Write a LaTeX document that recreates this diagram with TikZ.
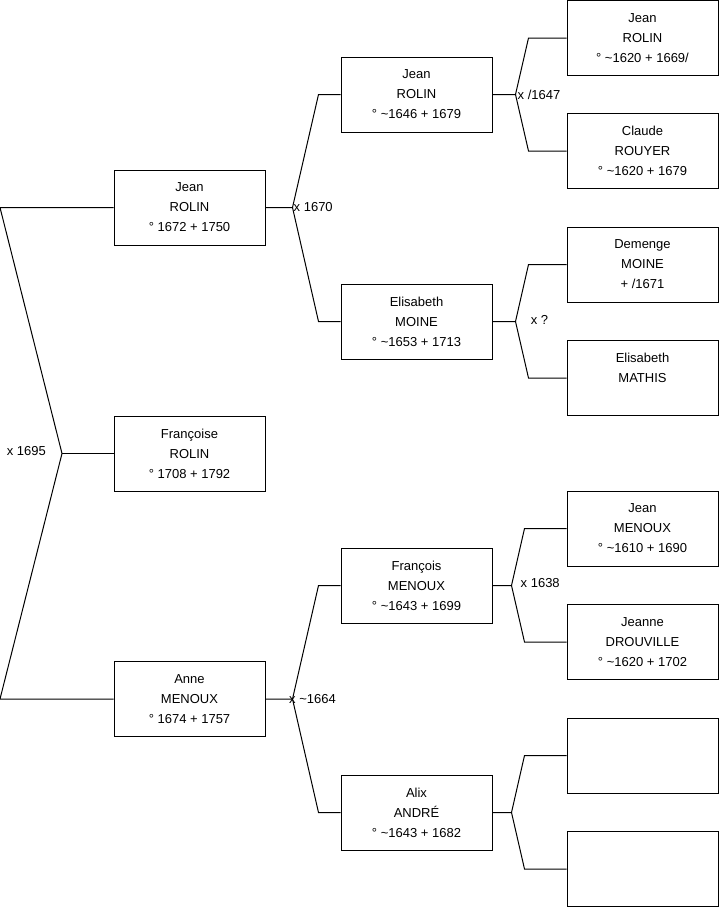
\documentclass[tikz,border=0pt]{standalone}
\usepackage{fontspec}
\setmainfont{Liberation Sans}
\usepackage{tikz}
\usetikzlibrary{positioning,calc}

\tikzset{
  person/.style={draw, line width=1pt, minimum width=151pt, minimum height=75pt,
    inner sep=0pt, align=center, font=\fontsize{13}{20}\selectfont},
  link/.style={line width=1pt},
  wed/.style={inner sep=0pt, font=\fontsize{13}{15}\selectfont}
}

\begin{document}
\begin{tikzpicture}[x=1pt, y=-1pt]
  \useasboundingbox (0,0) rectangle (719,908);

  % Generation 1
  \node[person] (jean1) at (189.5,207.5) {Jean\\ROLIN\\° 1672 + 1750};
  \node[person] (francoise1) at (189.5,453.5) {Françoise\\ROLIN\\° 1708 + 1792};
  \node[person] (anne1) at (189.5,699) {Anne\\MENOUX\\° 1674 + 1757};

  % Generation 2
  \node[person] (jean2) at (416.5,94.5) {Jean\\ROLIN\\° \textasciitilde1646 + 1679};
  \node[person] (elisabeth2) at (416.5,321.5) {Elisabeth\\MOINE\\° \textasciitilde1653 + 1713};
  \node[person] (francois2) at (416.5,585.5) {François\\MENOUX\\° \textasciitilde1643 + 1699};
  \node[person] (alix2) at (416.5,812.5) {Alix\\ANDRÉ\\° \textasciitilde1643 + 1682};

  % Generation 3
  \node[person] (jean3) at (642.5,38) {Jean\\ROLIN\\° \textasciitilde1620 + 1669/};
  \node[person] (claude3) at (642.5,151) {Claude\\ROUYER\\° \textasciitilde1620 + 1679};
  \node[person] (demenge3) at (642.5,264.5) {Demenge\\MOINE\\+ /1671};
  \node[person] (mathis3) at (642.5,378) {Elisabeth\\MATHIS\\\mbox{}};
  \node[person] (jeanm3) at (642.5,528.5) {Jean\\MENOUX\\° \textasciitilde1610 + 1690};
  \node[person] (jeanne3) at (642.5,642) {Jeanne\\DROUVILLE\\° \textasciitilde1620 + 1702};
  \node[person] (blank3a) at (642.5,755.5) {};
  \node[person] (blank3b) at (642.5,869) {};

  % Unions, generation 1
  \coordinate (edge) at (0,0);
  \coordinate (v0) at (62,453.5);
  \draw[link] (v0) -- (edge |- jean1.west) -- (jean1.west);
  \draw[link] (v0) -- (francoise1.west);
  \draw[link] (v0) -- (edge |- anne1.west) -- (anne1.west);
  \node[wed, anchor=east] at ($(v0)+(-16,-2)$) {x 1695};

  % Unions, generation 2
  \draw[link] (jean1.east) -- ++(27,0) coordinate (v1) -- ($(jean2.west)+(-22,0)$) -- (jean2.west);
  \draw[link] (v1) -- ($(elisabeth2.west)+(-22,0)$) -- (elisabeth2.west);
  \node[wed, anchor=west] at ($(v1)+(1,0)$) {x 1670};

  \draw[link] (anne1.east) -- ++(27,0) coordinate (v4) -- ($(francois2.west)+(-22,0)$) -- (francois2.west);
  \draw[link] (v4) -- ($(alix2.west)+(-22,0)$) -- (alix2.west);
  \node[wed, anchor=west] at ($(v4)+(-3.5,0)$) {x \textasciitilde1664};

  % Unions, generation 3
  \draw[link] (jean2.east) -- ++(23,0) coordinate (v2) -- ($(jean3.west)+(-38,0)$) -- (jean3.west);
  \draw[link] (v2) -- ($(claude3.west)+(-38,0)$) -- (claude3.west);
  \node[wed, anchor=west] at ($(v2)+(2,0)$) {x /1647};

  \draw[link] (elisabeth2.east) -- ++(23,0) coordinate (v3) -- ($(demenge3.west)+(-38,0)$) -- (demenge3.west);
  \draw[link] (v3) -- ($(mathis3.west)+(-38,0)$) -- (mathis3.west);
  \node[wed] at ($(v3)+(24,-2)$) {x ?};

  \draw[link] (francois2.east) -- ++(19,0) coordinate (v5) -- ($(jeanm3.west)+(-42,0)$) -- (jeanm3.west);
  \draw[link] (v5) -- ($(jeanne3.west)+(-42,0)$) -- (jeanne3.west);
  \node[wed, anchor=west] at ($(v5)+(9,-2)$) {x 1638};

  \draw[link] (alix2.east) -- ++(19,0) coordinate (v6) -- ($(blank3a.west)+(-42,0)$) -- (blank3a.west);
  \draw[link] (v6) -- ($(blank3b.west)+(-42,0)$) -- (blank3b.west);
\end{tikzpicture}
\end{document}
